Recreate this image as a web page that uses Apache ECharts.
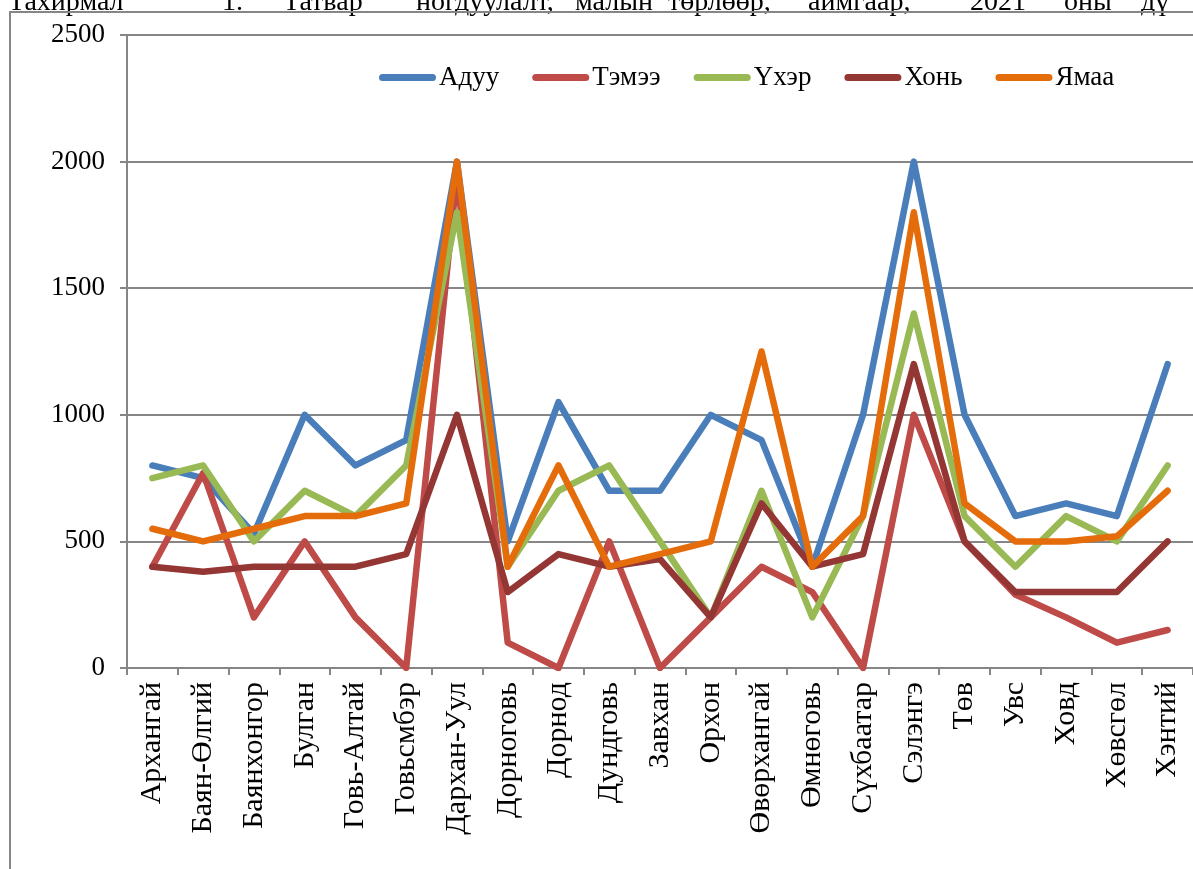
<!DOCTYPE html>
<html>
<head>
<meta charset="utf-8">
<script src="https://cdn.jsdelivr.net/npm/echarts@6/dist/echarts.min.js"></script>
<style>
html,body{margin:0;padding:0;background:#fff;}
#chart{width:1193px;height:869px;}
</style>
</head>
<body>
<div id="chart"></div>
<script>
const categories = ['Архангай','Баян-Өлгий','Баянхонгор','Булган','Говь-Алтай','Говьсмбэр','Дархан-Уул','Дорноговь','Дорнод','Дундговь','Завхан','Орхон','Өвөрхангай','Өмнөговь','Сүхбаатар','Сэлэнгэ','Төв','Увс','Ховд','Хөвсгөл','Хэнтий'];
const adyy   = [800, 750, 530, 1000, 800, 900, 2000, 500, 1050, 700, 700, 1000, 900, 400, 1000, 2000, 1000, 600, 650, 600, 1200];
const temee  = [400, 770, 200, 500, 200, 0, 1950, 100, 0, 500, 0, 200, 400, 300, 0, 1000, 500, 290, 200, 100, 150];
const ukher  = [750, 800, 500, 700, 600, 800, 1800, 400, 700, 800, 500, 200, 700, 200, 600, 1400, 600, 400, 600, 500, 800];
const khon   = [400, 380, 400, 400, 400, 450, 1000, 300, 450, 400, 430, 200, 650, 400, 450, 1200, 500, 300, 300, 300, 500];
const yamaa  = [550, 500, 550, 600, 600, 650, 2000, 400, 800, 400, 450, 500, 1250, 400, 600, 1800, 650, 500, 500, 520, 700];
const seriesNames = ['Адуу','Тэмээ','Үхэр','Хонь','Ямаа'];
const yTicks = [0, 500, 1000, 1500, 2000, 2500];
const headerWords = [['Тахирмал',8],['1.',222],['Татвар',283],['ногдуулалт,',416],['малын',575],['төрлөөр,',668],['аймгаар,',808],['2021',970],['оны',1064],['дү',1141]];

const colors = ['#4A7EBB','#BE4B48','#98B954','#943634','#E46C0A'];
const dataSets = [adyy, temee, ukher, khon, yamaa];
const FONT = '"Liberation Serif", "Times New Roman", serif';
const BAR_ICON = 'path://M3.5,0 H53.5 A3.5,3.5 0 0 1 53.5,7 H3.5 A3.5,3.5 0 0 1 3.5,0 Z';

const chart = echarts.init(document.getElementById('chart'), null, {renderer:'canvas'});
const option = {
  animation: false,
  backgroundColor: '#fff',
  grid: {left: 127, right: 0, top: 35, bottom: 201, containLabel: false},
  legend: {
    data: seriesNames.map(n => ({name: n, icon: BAR_ICON})),
    left: 374, top: 59,
    itemWidth: 57, itemHeight: 7, itemGap: 33,
    symbolKeepAspect: false,
    itemStyle: {borderWidth: 0},
    textStyle: {fontFamily: FONT, fontSize: 27, color: '#000', padding: [0,0,0,-2]}
  },
  xAxis: {
    type: 'category',
    data: categories,
    boundaryGap: true,
    axisLine: {show: true, lineStyle: {color: '#868686', width: 2}},
    axisTick: {show: true, alignWithLabel: false, length: 7, lineStyle: {color: '#868686', width: 2}},
    axisLabel: {rotate: 90, margin: 14, fontFamily: FONT, fontSize: 30, color: '#000', interval: 0},
    splitLine: {show: false}
  },
  yAxis: {
    type: 'value',
    min: yTicks[0], max: yTicks[yTicks.length-1], interval: 500,
    axisLine: {show: true, lineStyle: {color: '#868686', width: 2}},
    axisTick: {show: true, inside: false, length: 7, lineStyle: {color: '#868686', width: 2}},
    axisLabel: {margin: 22, fontFamily: FONT, fontSize: 27, color: '#000', formatter: v => String(v)},
    splitLine: {show: true, lineStyle: {color: '#868686', width: 2}}
  },
  series: seriesNames.map((n, i) => ({
    name: n,
    type: 'line',
    data: dataSets[i],
    symbol: 'none',
    legendIcon: BAR_ICON,
    smooth: false,
    color: colors[i],
    itemStyle: {color: colors[i]},
    lineStyle: {color: colors[i], width: 6.5, cap: 'round', join: 'round'},
    emphasis: {disabled: true}
  })),
  graphic: [
    {type: 'rect', shape: {x: 10, y: 12, width: 1400, height: 1000}, style: {fill: 'none', stroke: '#868686', lineWidth: 2}, z: 100, silent: true}
  ].concat(headerWords.map(w => ({
    type: 'text', x: w[1], y: 3,
    style: {text: w[0], font: '28px ' + FONT, fill: '#000', textVerticalAlign: 'middle', verticalAlign: 'middle'},
    silent: true
  })))
};
chart.setOption(option);
</script>
</body>
</html>
